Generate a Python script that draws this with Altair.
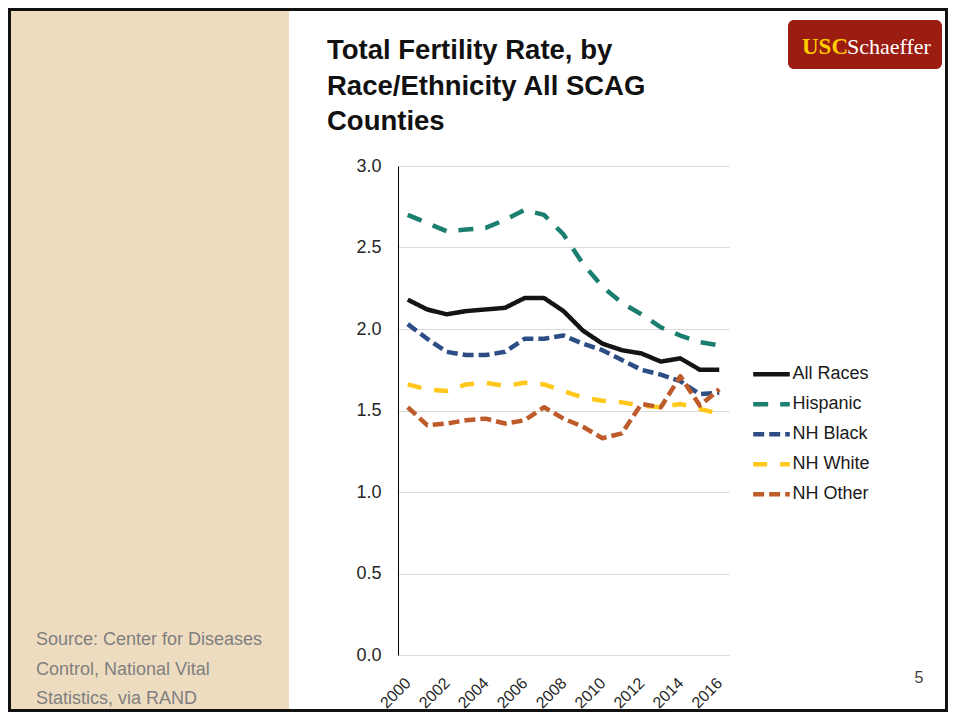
import altair as alt
import pandas as pd

# ---------------- data ----------------
years = list(range(2000, 2017))
label_years = [2000, 2002, 2004, 2006, 2008, 2010, 2012, 2014, 2016]
series = ["All Races", "Hispanic", "NH Black", "NH White", "NH Other"]
all_races = [2.18, 2.12, 2.09, 2.11, 2.12, 2.13, 2.19, 2.19, 2.11, 1.99, 1.91, 1.87, 1.85, 1.80, 1.82, 1.75, 1.75]
hispanic  = [2.70, 2.65, 2.60, 2.61, 2.62, 2.67, 2.73, 2.70, 2.58, 2.40, 2.26, 2.16, 2.09, 2.01, 1.96, 1.92, 1.90]
nh_black  = [2.03, 1.94, 1.86, 1.84, 1.84, 1.86, 1.94, 1.94, 1.96, 1.91, 1.87, 1.81, 1.75, 1.72, 1.68, 1.60, 1.61]
nh_white  = [1.66, 1.63, 1.62, 1.66, 1.67, 1.65, 1.67, 1.66, 1.62, 1.58, 1.56, 1.55, 1.53, 1.52, 1.54, 1.51, 1.48]
nh_other  = [1.52, 1.41, 1.42, 1.44, 1.45, 1.42, 1.44, 1.52, 1.45, 1.40, 1.33, 1.36, 1.54, 1.52, 1.71, 1.53, 1.63]
y_ticks = [0.0, 0.5, 1.0, 1.5, 2.0, 2.5, 3.0]

title_lines = ["Total Fertility Rate, by", "Race/Ethnicity All SCAG", "Counties"]
source_lines = ["Source: Center for Diseases", "Control, National Vital", "Statistics, via RAND"]
logo_left = "USC"
logo_right = "Schaeffer"
page_number = "5"

colors = ["#141414", "#1B7F70", "#2D4E85", "#FFC81A", "#BE5B2A"]
dashes = [[1, 0], [15, 12], [11, 5], [14, 13], [11, 5]]

values = [all_races, hispanic, nh_black, nh_white, nh_other]
rows = []
for s, vals in zip(series, values):
    for yr, v in zip(years, vals):
        rows.append({"year": yr, "rate": v, "series": s})
df = pd.DataFrame(rows)
labels_df = pd.DataFrame({"year": label_years, "label": [str(y) for y in label_years]})

# tick marks sit on the category boundaries
x_tick_values = [y - 0.5 for y in years] + [years[-1] + 0.5]
x_scale = alt.Scale(domain=[years[0] - 0.5, years[-1] + 0.5], nice=False, zero=False)

FONT = "Liberation Sans"

legend = alt.Legend(
    orient="none", legendX=352.5, legendY=187.3, title=None,
    symbolType="stroke", symbolSize=1340, symbolStrokeWidth=4.5,
    labelFontSize=18, labelFont=FONT, labelColor="#1a1a1a",
    rowPadding=0, labelOffset=0, padding=0,
)

lines = alt.Chart(df).mark_line(strokeWidth=4.5, strokeJoin="round").encode(
    x=alt.X(
        "year:Q",
        scale=x_scale,
        axis=alt.Axis(
            values=x_tick_values, labels=False,
            tickSize=5, tickColor="#808080", tickWidth=1,
            domainColor="#000000", domainWidth=1, grid=False, title=None,
        ),
    ),
    y=alt.Y(
        "rate:Q",
        scale=alt.Scale(domain=[0, 3], nice=False),
        axis=alt.Axis(
            values=y_ticks, format=".1f", labelFontSize=18, labelFont=FONT,
            labelColor="#262626", labelPadding=17, ticks=False, tickSize=0,
            domainColor="#000000", domainWidth=1, gridColor="#d9d9d9", gridWidth=1,
            title=None,
        ),
    ),
    color=alt.Color("series:N", scale=alt.Scale(domain=series, range=colors), legend=legend, title=None),
    strokeDash=alt.StrokeDash("series:N", scale=alt.Scale(domain=series, range=dashes), legend=legend, title=None),
)

# rotated year labels placed through the same x scale
x_labels = alt.Chart(labels_df).mark_text(
    angle=315, align="right", baseline="top", font=FONT, fontSize=16,
    color="#262626", dx=-7.2,
).encode(
    x=alt.X("year:Q", scale=x_scale, axis=None),
    y=alt.value(503.9),
    text="label:N",
)

one = pd.DataFrame({"k": [0]})
base = alt.Chart(one)

beige = base.mark_rect(color="#EEDCC1").encode(
    x=alt.value(-390), x2=alt.value(-109), y=alt.value(-158), y2=alt.value(546)
)
frame = base.mark_rect(fillOpacity=0, stroke="#111111", strokeWidth=3).encode(
    x=alt.value(-388.5), x2=alt.value(548.5), y=alt.value(-156.5), y2=alt.value(544.5)
)
title = base.mark_text(
    align="left", baseline="alphabetic", font=FONT, fontSize=27.5, fontWeight="bold",
    color="#111111", lineHeight=35.5,
).encode(x=alt.value(-71), y=alt.value(-107), text=alt.value(title_lines))

logo_box = base.mark_rect(color="#9B1C10", cornerRadius=6).encode(
    x=alt.value(390), x2=alt.value(544), y=alt.value(-146), y2=alt.value(-97)
)
logo_usc = base.mark_text(
    align="left", baseline="alphabetic", font="Liberation Serif", fontSize=23, fontWeight="bold",
    color="#FFCC00",
).encode(x=alt.value(404), y=alt.value(-112), text=alt.value(logo_left))
logo_sch = base.mark_text(
    align="left", baseline="alphabetic", font="Liberation Serif", fontSize=22,
    color="#FFFFFF",
).encode(x=alt.value(449), y=alt.value(-112), text=alt.value(logo_right))

source = base.mark_text(
    align="left", baseline="alphabetic", font=FONT, fontSize=18, color="#7F7F7F",
    lineHeight=29.5,
).encode(x=alt.value(-362), y=alt.value(479), text=alt.value(source_lines))

page = base.mark_text(
    align="center", baseline="alphabetic", font=FONT, fontSize=16, color="#404040",
).encode(x=alt.value(521), y=alt.value(517), text=alt.value(page_number))

chart = alt.layer(
    beige, frame, lines, x_labels, title, logo_box, logo_usc, logo_sch, source, page
).properties(
    width=331, height=489,
    padding={"left": 390, "top": 158, "right": 219, "bottom": 57},
    autosize=alt.AutoSizeParams(type="none"),
    background="#FFFFFF",
).configure_view(stroke=None)

chart.save("out.html", embed_options={"renderer": "svg", "actions": False})
